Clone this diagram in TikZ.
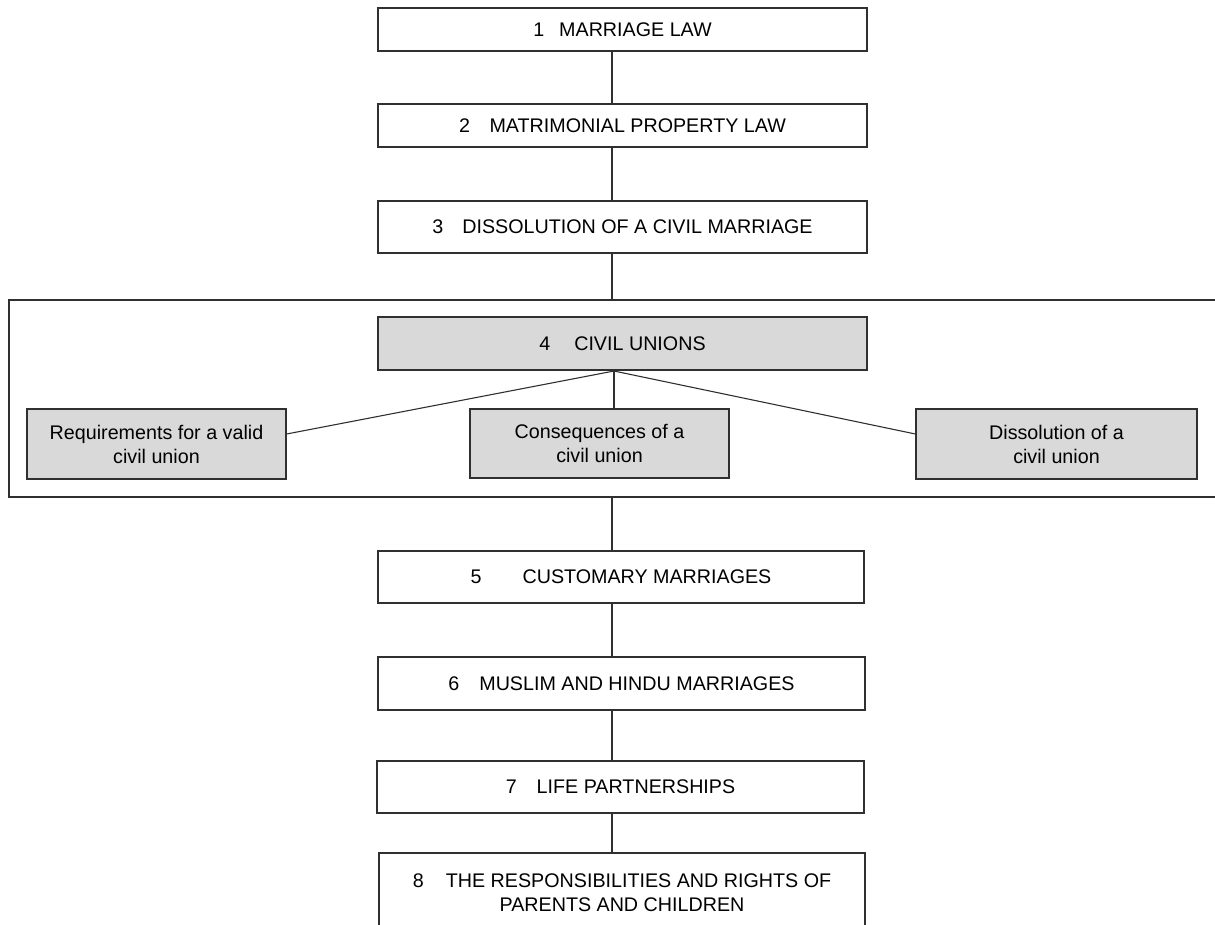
\documentclass[tikz,border=0pt]{standalone}
\usepackage{fontspec}
\setmainfont{Liberation Sans}
\definecolor{edge}{HTML}{303030}
\definecolor{shade}{HTML}{D9D9D9}
\tikzset{
  txt/.style={font=\fontsize{19.7}{24}\selectfont},
  topic/.style n args={2}{draw=edge, line width=1.2pt, rectangle, inner sep=0pt,
    minimum width=#1, minimum height=#2, align=center, txt, fill=white},
  subtopic/.style n args={2}{topic={#1}{#2}, fill=shade},
  link/.style={draw=edge, line width=1.1pt},
}
\begin{document}
\begin{tikzpicture}[x=1pt,y=-1pt]
\useasboundingbox (0,0) rectangle (1215,924);
\clip (0,0) rectangle (1215,924);

% spine of the chapter sequence and the civil-union fork
\coordinate (spine) at (612,0);
\coordinate (fork) at (614,371);
\coordinate (tie) at (0,434);

% frame around the civil-union group
\node[draw=edge, line width=1.2pt, rectangle, inner sep=0pt,
      minimum width=1216pt, minimum height=197pt] (frame) at (617,398.5) {};

\node[topic={489pt}{43pt}] (b1) at (622.5,29.5) {1\hspace{15pt}MARRIAGE LAW};
\node[topic={489pt}{43pt}] (b2) at (622.5,125.5) {2\hspace{19.5pt}MATRIMONIAL PROPERTY LAW};
\node[topic={489pt}{52pt}] (b3) at (622.5,227) {3\hspace{19pt}DISSOLUTION OF A CIVIL MARRIAGE};
\node[subtopic={489pt}{53pt}] (b4) at (622.5,343.5) {4\hspace{24pt}CIVIL UNIONS};

\node[subtopic={259pt}{70pt}] (req) at (156.5,444) {Requirements for a valid\\civil union};
\node[subtopic={259pt}{69pt}] (cons) at (599.5,443.5) {Consequences of a\\civil union};
\node[subtopic={281pt}{70pt}] (diss) at (1056.5,444) {Dissolution of a\\civil union};

\node[topic={486pt}{52pt}] (b5) at (621,577) {5\hspace{41pt}CUSTOMARY MARRIAGES};
\node[topic={487pt}{53pt}] (b6) at (621.5,683.5) {6\hspace{20pt}MUSLIM AND HINDU MARRIAGES};
\node[topic={487pt}{52pt}] (b7) at (620.5,787) {7\hspace{20pt}LIFE PARTNERSHIPS};
\node[topic={486pt}{80pt}] (b8) at (622,893) {8\hspace{22pt}THE RESPONSIBILITIES AND RIGHTS OF\\PARENTS AND CHILDREN};

% vertical connectors
\draw[link] (b1.south -| spine) -- (b2.north -| spine);
\draw[link] (b2.south -| spine) -- (b3.north -| spine);
\draw[link] (b3.south -| spine) -- (frame.north -| spine);
\draw[link] (frame.south -| spine) -- (b5.north -| spine);
\draw[link] (b5.south -| spine) -- (b6.north -| spine);
\draw[link] (b6.south -| spine) -- (b7.north -| spine);
\draw[link] (b7.south -| spine) -- (b8.north -| spine);

% fork from civil unions to its three parts
\draw[link] (b4.south -| fork) -- (cons.north -| fork);
\draw[link] (fork) -- (req.east |- tie);
\draw[link] (fork) -- (diss.west |- tie);
\end{tikzpicture}
\end{document}
